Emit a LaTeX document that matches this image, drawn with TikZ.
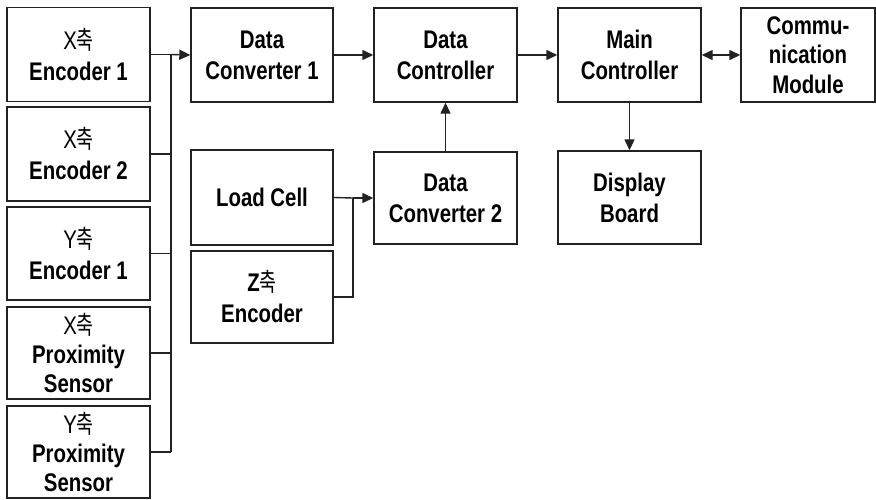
\documentclass[tikz,border=0pt]{standalone}
\usepackage{fontspec}
\setmainfont{Liberation Sans}[FakeStretch=0.8]
\newfontfamily\kr{Noto Sans CJK KR}[FakeStretch=0.72]
\usetikzlibrary{arrows.meta}
\definecolor{ink}{HTML}{222222}
\newcommand{\axis}[1]{{\mdseries #1\kr 축}}
\newcommand{\axisb}[1]{{#1\mdseries\kr 축}}
\tikzset{
  blockbox/.style={draw=ink, line width=1.4pt, fill=white, inner sep=0pt,
    minimum width=143pt, minimum height=94pt, align=center,
    font=\bfseries\fontsize{25.5}{31}\selectfont},
  wire/.style={draw=ink, line width=1.4pt},
  flow/.style={wire, -{Triangle[length=11pt,width=10pt]}},
  flow2/.style={wire, {Triangle[length=11pt,width=10pt]}-{Triangle[length=11pt,width=10pt]}}
}
\begin{document}
\begin{tikzpicture}[x=1pt,y=-1pt]
\useasboundingbox (0,0) rectangle (876,499);

% sensor column
\node[blockbox] (e1) at (78.5,54.5) {\axis{X}\\Encoder 1};
\node[blockbox] (e2) at (78.5,154)  {\axis{X}\\Encoder 2};
\node[blockbox, minimum height=93pt] (e3) at (78.5,253.5) {\axis{Y}\\Encoder 1};
\node[blockbox, minimum height=92pt, font=\bfseries\fontsize{25.5}{29}\selectfont] (e4) at (78.5,353) {\axis{X}\\Proximity\\Sensor};
\node[blockbox, minimum height=92pt, font=\bfseries\fontsize{25.5}{29}\selectfont] (e5) at (78.5,452) {\axis{Y}\\Proximity\\Sensor};

% second column
\node[blockbox, minimum width=142pt] (dc1) at (262,55) {Data\\Converter 1};
\node[blockbox, minimum width=142pt, minimum height=95pt] (lc) at (262,197.5) {Load Cell};
\node[blockbox, minimum width=142pt, minimum height=92pt] (ze) at (262,297) {\axisb{Z}\\Encoder};

% third column
\node[blockbox] (dct) at (445.5,55) {Data\\Controller};
\node[blockbox, minimum height=92pt] (dc2) at (445.5,198) {Data\\Converter 2};

% fourth column
\node[blockbox] (mc) at (629.5,55) {Main\\Controller};
\node[blockbox, minimum height=93pt] (db) at (629.5,197.5) {Display\\Board};

% communication
\node[blockbox, minimum width=134pt, font=\bfseries\fontsize{25.5}{29.5}\selectfont] (cm) at (808,55) {Commu-\\nication\\Module};

% sensor bus
\coordinate (j1) at (171,54.5);
\coordinate (j5) at (171,452);
\draw[wire] (e1.east) -- (j1);
\draw[wire] (e2.east) -- (e2.east -| j1);
\draw[wire] (e3.east) -- (e3.east -| j1);
\draw[wire] (e4.east) -- (e4.east -| j1);
\draw[wire] (e5.east) -- (j5);
\draw[wire] (j1) -- (j5);
\draw[flow] (j1) -- (dc1.west);

% load cell / Z encoder join
\coordinate (j2) at (353,198);
\draw[wire] (lc.east) -- (j2);
\draw[wire] (ze.east) -| (j2);
\draw[flow] (j2) -- (dc2.west);

% main flow
\draw[flow] (dc1.east) -- (dct.west);
\draw[flow] (dc2.north) -- (dct.south);
\draw[flow] (dct.east) -- (mc.west);
\draw[flow] (mc.south) -- (db.north);
\draw[flow2] (mc.east) -- (cm.west);
\end{tikzpicture}
\end{document}
